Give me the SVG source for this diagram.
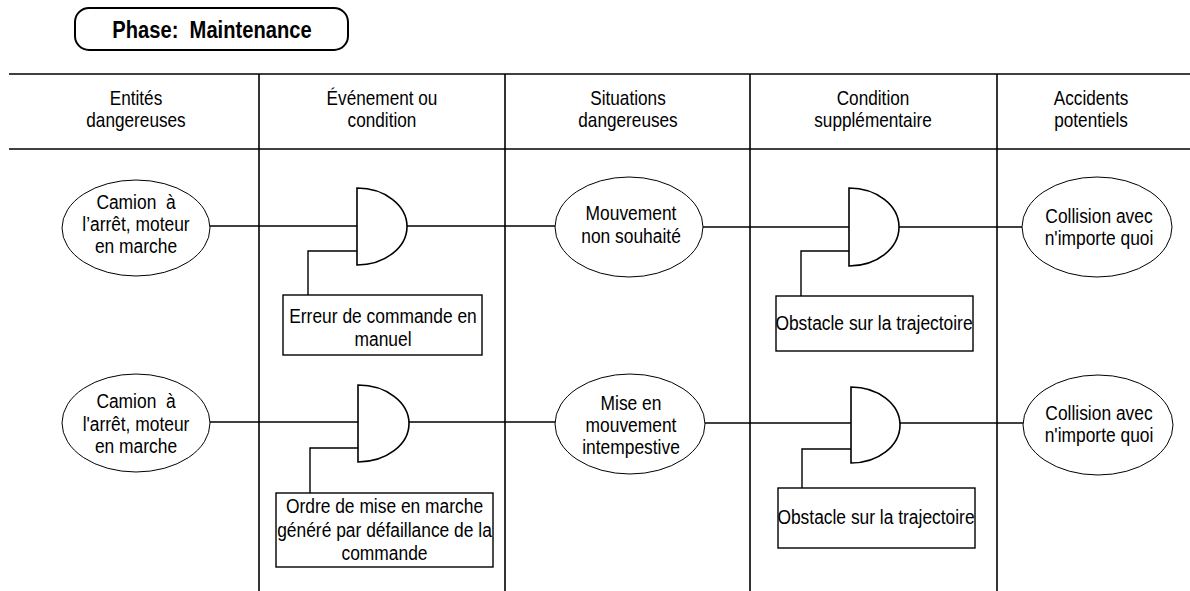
<svg xmlns="http://www.w3.org/2000/svg" width="1190" height="591" viewBox="0 0 1190 591">
<style>
text{font-family:"Liberation Sans",Arial,sans-serif;font-size:20px;fill:#000;text-anchor:middle}
.b{font-weight:bold;font-size:24px}
.pre{white-space:pre}
.grid{stroke:#000;stroke-width:1.6;fill:none}
.ln{stroke:#000;stroke-width:1.4;fill:none}
.ell{stroke:#000;stroke-width:1;fill:#fff}
.box{stroke:#000;stroke-width:1.4;fill:#fff}
.pbox{stroke:#000;stroke-width:2;fill:#fff}
.gate{stroke:#000;stroke-width:1.6;fill:#fff}
</style>
<rect width="1190" height="591" fill="#fff"/>
<g id="phase">
<rect x="75" y="8" width="273" height="42" rx="14" ry="14" class="pbox"/>
<text transform="translate(212,38) scale(0.84,1)" class="b pre">Phase:  Maintenance</text>
</g>
<g id="grid">
<line x1="9" y1="74" x2="1190" y2="74" class="grid"/>
<line x1="9" y1="149" x2="1190" y2="149" class="grid"/>
<line x1="259" y1="74" x2="259" y2="591" class="grid"/>
<line x1="505" y1="74" x2="505" y2="591" class="grid"/>
<line x1="750" y1="74" x2="750" y2="591" class="grid"/>
<line x1="997" y1="74" x2="997" y2="591" class="grid"/>
</g>
<g id="headers">
<text transform="translate(136,105) scale(0.86,1)">Entités</text><text transform="translate(136,127) scale(0.86,1)">dangereuses</text>
<text transform="translate(382,105) scale(0.86,1)">Événement ou</text><text transform="translate(382,127) scale(0.86,1)">condition</text>
<text transform="translate(628,105) scale(0.86,1)">Situations</text><text transform="translate(628,127) scale(0.86,1)">dangereuses</text>
<text transform="translate(873,105) scale(0.86,1)">Condition</text><text transform="translate(873,127) scale(0.86,1)">supplémentaire</text>
<text transform="translate(1091,105) scale(0.86,1)">Accidents</text><text transform="translate(1091,127) scale(0.86,1)">potentiels</text>
</g>
<g id="connectors">
<polyline points="210,226 357,226" class="ln"/>
<polyline points="407,226 555,226" class="ln"/>
<polyline points="357,251 308,251 308,295" class="ln"/>
<polyline points="703,227 849,227" class="ln"/>
<polyline points="899,227 1022,227" class="ln"/>
<polyline points="849,251 801,251 801,296" class="ln"/>
<polyline points="210,422 358,422" class="ln"/>
<polyline points="409,422 555,422" class="ln"/>
<polyline points="358,448 310,448 310,493" class="ln"/>
<polyline points="705,423 851,423" class="ln"/>
<polyline points="900,423 1023,423" class="ln"/>
<polyline points="851,449 802,449 802,488" class="ln"/>
</g>
<g id="e1">
<ellipse cx="136" cy="228" rx="74" ry="48" class="ell"/>
<text transform="translate(136,209) scale(0.87,1)" class="pre">Camion  à</text><text transform="translate(136,231) scale(0.87,1)">l’arrêt, moteur</text><text transform="translate(136,253) scale(0.87,1)">en marche</text>
</g>
<g id="gate1"><path d="M357,188 A50,38.5 0 0 1 357,265 Z" class="gate"/></g>
<g id="b1">
<rect x="283" y="295" width="199" height="60" class="box"/>
<text transform="translate(383,323) scale(0.87,1)">Erreur de commande en</text><text transform="translate(383,346) scale(0.87,1)">manuel</text>
</g>
<g id="s1">
<ellipse cx="629" cy="227" rx="74" ry="50" class="ell"/>
<text transform="translate(631,220) scale(0.87,1)">Mouvement</text><text transform="translate(631,243) scale(0.87,1)">non souhaité</text>
</g>
<g id="gate3"><path d="M849,188 A50,39 0 0 1 849,266 Z" class="gate"/></g>
<g id="b3">
<rect x="776" y="296" width="197" height="55" class="box"/>
<text transform="translate(874,330) scale(0.87,1)">Obstacle sur la trajectoire</text>
</g>
<g id="a1">
<ellipse cx="1097" cy="227" rx="75" ry="50" class="ell"/>
<text transform="translate(1099,223) scale(0.87,1)">Collision avec</text><text transform="translate(1099,245) scale(0.87,1)">n'importe quoi</text>
</g>
<g id="e2">
<ellipse cx="136" cy="423" rx="74" ry="49" class="ell"/>
<text transform="translate(136,408) scale(0.87,1)" class="pre">Camion  à</text><text transform="translate(136,431) scale(0.87,1)">l'arrêt, moteur</text><text transform="translate(136,453) scale(0.87,1)">en marche</text>
</g>
<g id="gate2"><path d="M358,385 A51,38.5 0 0 1 358,462 Z" class="gate"/></g>
<g id="b2">
<rect x="276" y="493" width="217" height="74" class="box"/>
<text transform="translate(384.5,513) scale(0.87,1)">Ordre de mise en marche</text><text transform="translate(384.5,537) scale(0.87,1)">généré par défaillance de la</text><text transform="translate(384.5,560) scale(0.87,1)">commande</text>
</g>
<g id="s2">
<ellipse cx="630" cy="424" rx="75" ry="50" class="ell"/>
<text transform="translate(631,410) scale(0.87,1)">Mise en</text><text transform="translate(631,432) scale(0.87,1)">mouvement</text><text transform="translate(631,454) scale(0.87,1)">intempestive</text>
</g>
<g id="gate4"><path d="M851,387 A49,38 0 0 1 851,463 Z" class="gate"/></g>
<g id="b4">
<rect x="778" y="488" width="197" height="60" class="box"/>
<text transform="translate(876,524) scale(0.87,1)">Obstacle sur la trajectoire</text>
</g>
<g id="a2">
<ellipse cx="1098" cy="425" rx="75" ry="50" class="ell"/>
<text transform="translate(1099,420) scale(0.87,1)">Collision avec</text><text transform="translate(1099,442) scale(0.87,1)">n'importe quoi</text>
</g>
</svg>
